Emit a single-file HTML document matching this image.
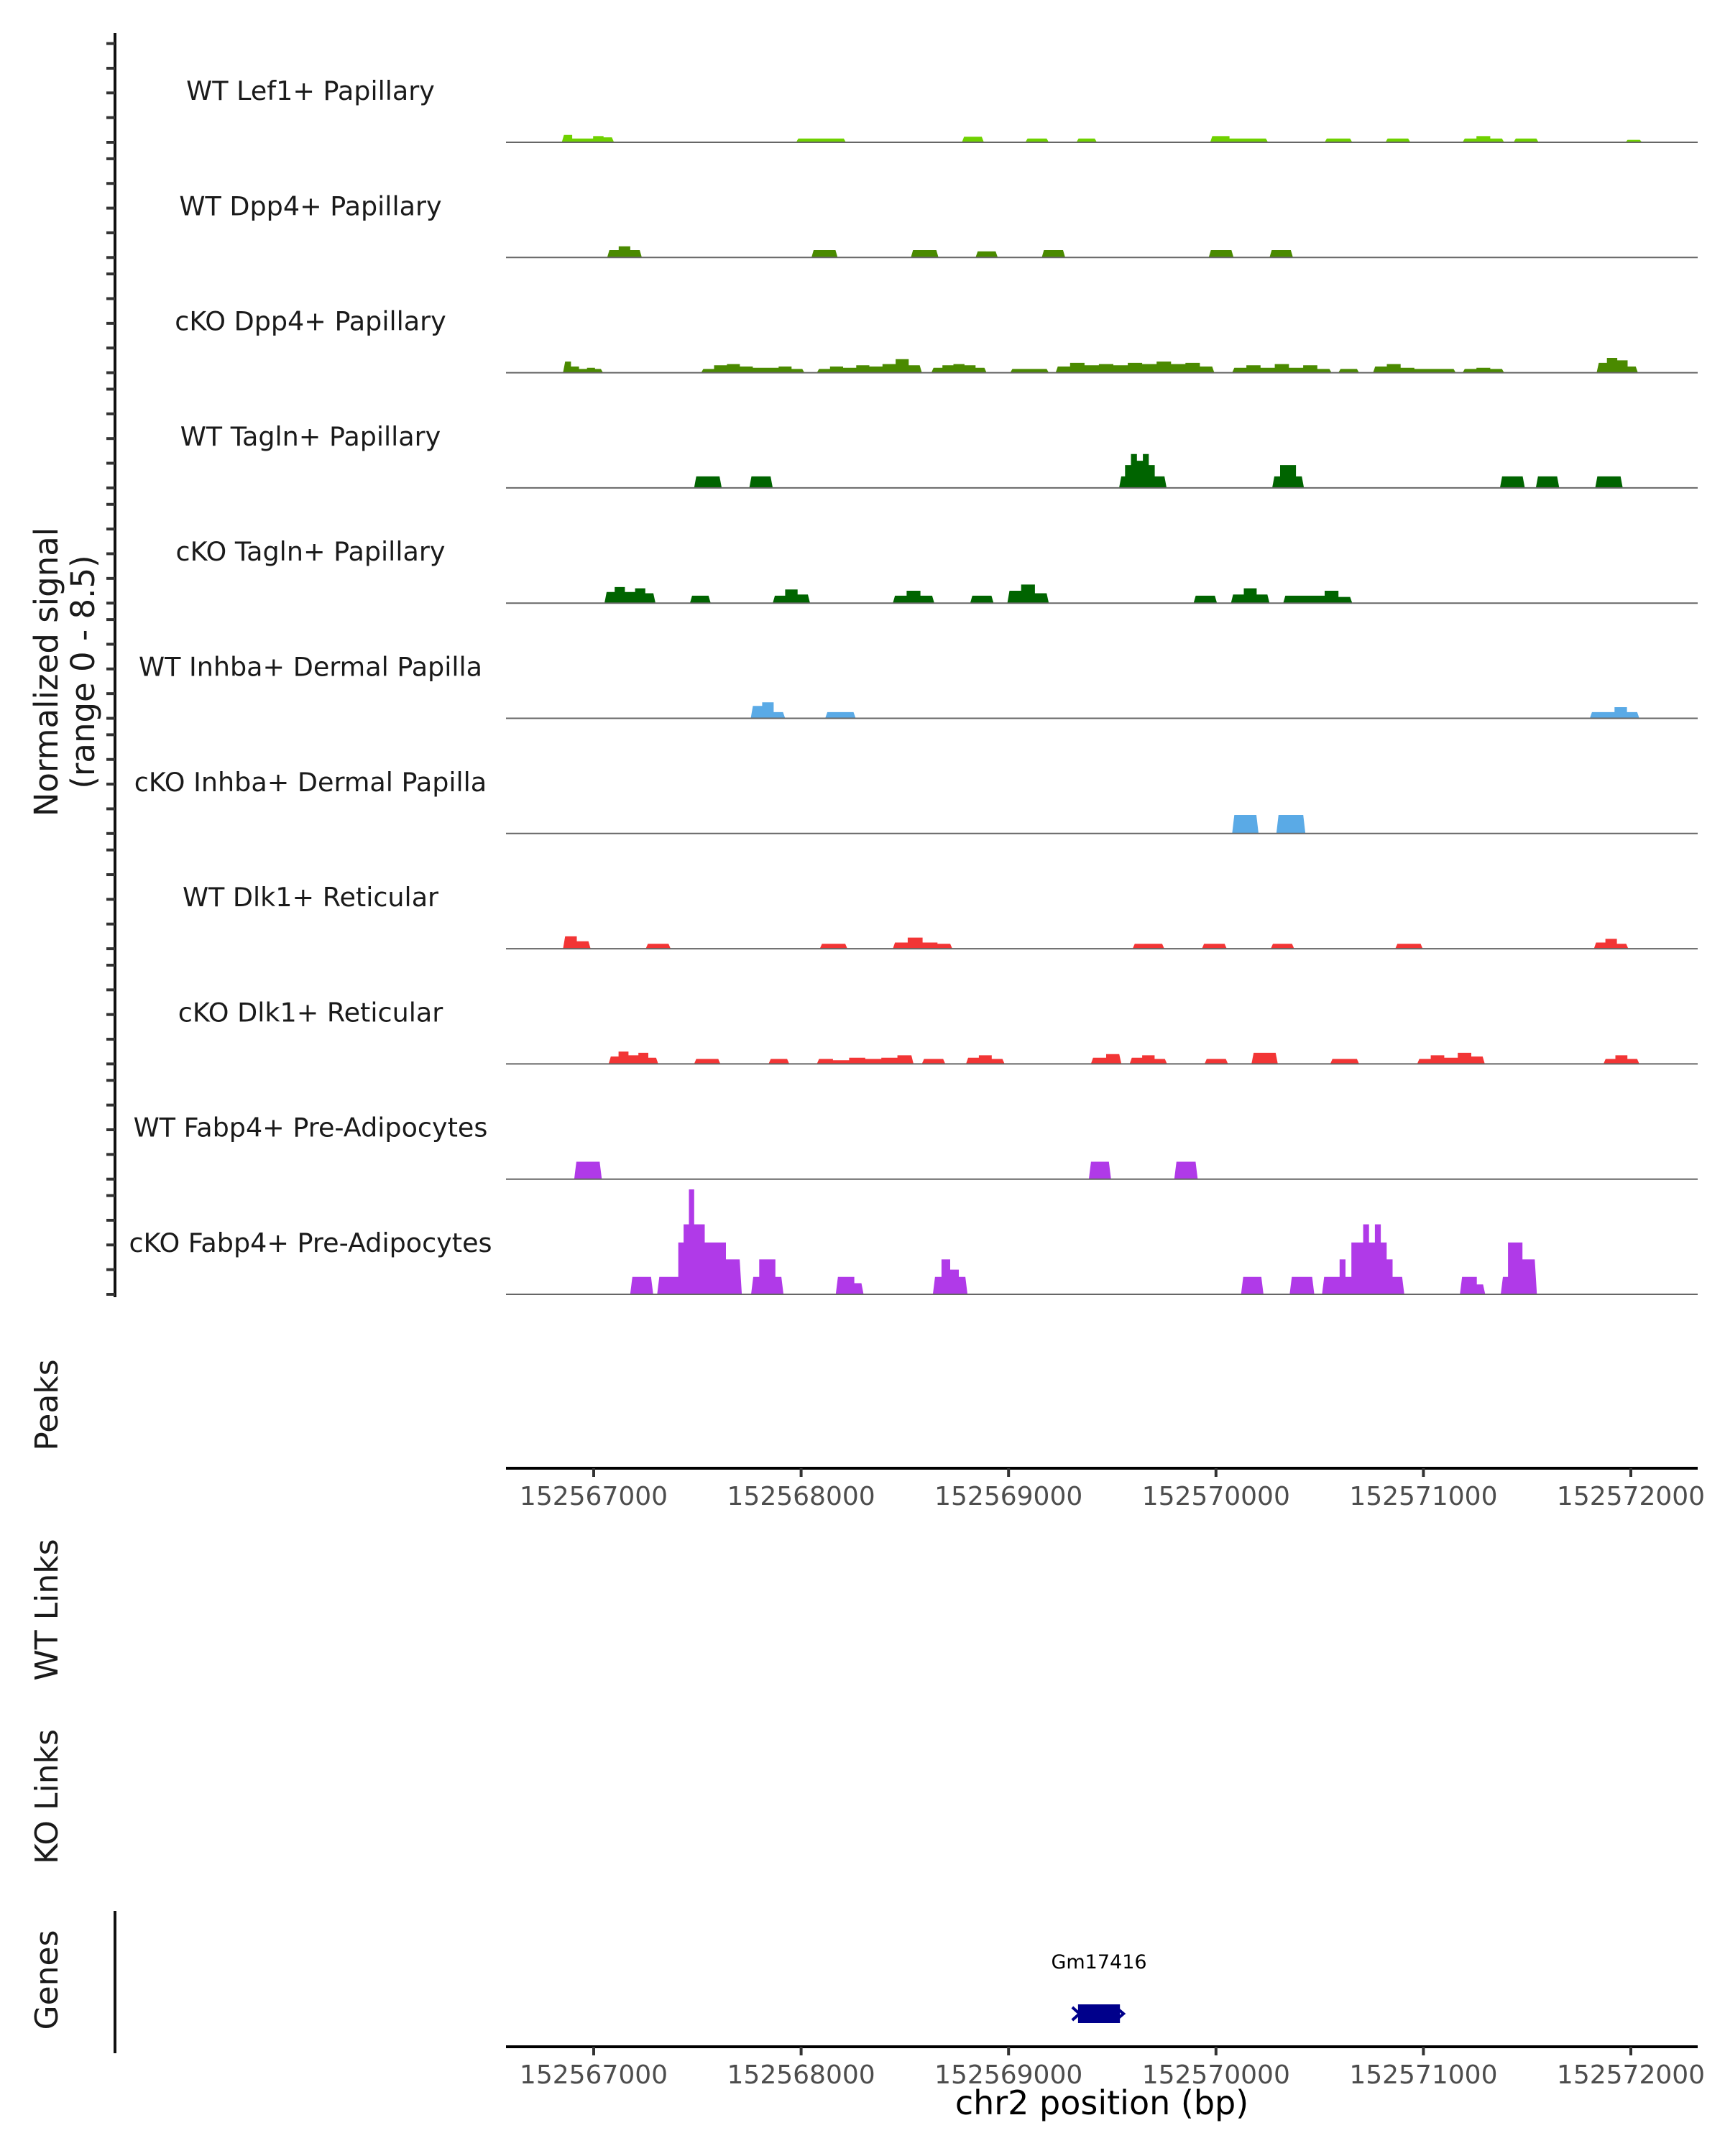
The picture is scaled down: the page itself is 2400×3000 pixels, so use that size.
<!DOCTYPE html>
<html><head><meta charset="utf-8">
<style>
html,body{margin:0;padding:0;background:#fff;}
svg{display:block;font-family:"DejaVu Sans","Liberation Sans",sans-serif;}
</style></head>
<body>
<svg id="chart" width="2400" height="3000" viewBox="0 0 2400 3000" xmlns="http://www.w3.org/2000/svg">
<g id="static">
  <text transform="translate(80,935) rotate(-90)" text-anchor="middle" font-size="45" fill="#1a1a1a">Normalized signal</text>
  <text transform="translate(131,935) rotate(-90)" text-anchor="middle" font-size="45" fill="#1a1a1a">(range 0 - 8.5)</text>
  <text transform="translate(80,1955) rotate(-90)" text-anchor="middle" font-size="44" fill="#1a1a1a">Peaks</text>
  <text transform="translate(80,2240) rotate(-90)" text-anchor="middle" font-size="44" fill="#1a1a1a">WT Links</text>
  <text transform="translate(80,2500) rotate(-90)" text-anchor="middle" font-size="44" fill="#1a1a1a">KO Links</text>
  <text transform="translate(80,2755) rotate(-90)" text-anchor="middle" font-size="44" fill="#1a1a1a">Genes</text>
  <line x1="160" y1="46" x2="160" y2="1805" stroke="#111" stroke-width="4"/>
  <line x1="160" y1="2659" x2="160" y2="2857" stroke="#111" stroke-width="4"/>
  <text x="1533" y="2942" text-anchor="middle" font-size="46" fill="#000">chr2 position (bp)</text>
</g>
<g id="tracks"></g>
<g id="axes"></g>
<g id="genes"></g>
</svg>
<script>
// ---- data ----
const trackNames = ["WT Lef1+ Papillary","WT Dpp4+ Papillary","cKO Dpp4+ Papillary","WT Tagln+ Papillary","cKO Tagln+ Papillary","WT Inhba+ Dermal Papilla","cKO Inhba+ Dermal Papilla","WT Dlk1+ Reticular","cKO Dlk1+ Reticular","WT Fabp4+ Pre-Adipocytes","cKO Fabp4+ Pre-Adipocytes"];
const trackColors = ["#6fd100","#4a8a00","#4a8a00","#006400","#006400","#5aaae6","#5aaae6","#f23535","#f23535","#b03ae8","#b03ae8"];
// peaks per track: [start bp offset from 152567000, end, step heights...]
const lef1WT = [[-154,98,0.6,0.3,0.3,0.5,0.4],[976,1216,0.3,0.3],[1775,1881,0.45],[2081,2194,0.3],[2327,2426,0.3],[2972,3251,0.5,0.3,0.3],[3524,3657,0.3],[3817,3937,0.3],[4189,4389,0.3,0.5,0.3],[4435,4555,0.3],[4974,5054,0.2]];
const dpp4WT = [[65,232,0.6,0.9,0.6],[1050,1176,0.6],[1529,1662,0.6],[1841,1948,0.5],[2160,2273,0.6],[2965,3085,0.6],[3258,3371,0.6]];
const dpp4KO = [[-148,45,0.9,0.5,0.3,0.4,0.3],[518,1016,0.3,0.6,0.7,0.5,0.4,0.4,0.5,0.3],[1076,1582,0.3,0.5,0.4,0.6,0.5,0.7,1.1,0.6],[1628,1894,0.4,0.6,0.7,0.6,0.4],[2008,2194,0.3,0.3,0.3],[2227,2992,0.5,0.8,0.6,0.7,0.6,0.8,0.7,0.9,0.7,0.8,0.5],[3078,3557,0.4,0.6,0.4,0.7,0.4,0.6,0.3],[3590,3690,0.3],[3757,4156,0.5,0.7,0.4,0.3,0.3,0.3],[4189,4389,0.3,0.4,0.3],[4835,5034,0.8,1.2,1.0,0.5]];
const taglnWT = [[484,617,0.93],[750,863,0.93],[2533,2762,0.93,1.85,2.75,2.2,2.75,1.85,0.93,0.93],[3271,3424,0.93,1.85,1.85,0.93],[4369,4489,0.93],[4542,4655,0.93],[4828,4961,0.93]];
const taglnKO = [[52,298,0.9,1.3,0.9,1.2,0.8],[464,564,0.6],[863,1043,0.6,1.1,0.7],[1442,1642,0.6,1.0,0.6],[1815,1928,0.6],[1994,2194,1.0,1.5,0.8],[2892,3005,0.6],[3072,3258,0.7,1.2,0.7],[3324,3657,0.6,0.6,0.6,1.0,0.5]];
const inhbaWT = [[757,923,1.0,1.3,0.5],[1116,1263,0.5],[4802,5041,0.5,0.5,0.9,0.5]];
const inhbaKO = [[3078,3205,1.5],[3291,3431,1.5]];
const dlk1WT = [[-148,-15,1.0,0.6],[251,371,0.4],[1090,1223,0.4],[1442,1729,0.5,0.9,0.5,0.4],[2598,2751,0.4],[2932,3052,0.4],[3264,3377,0.4],[3864,3997,0.4],[4822,4988,0.5,0.8,0.4]];
const dlk1KO = [[72,311,0.6,1.0,0.7,0.9,0.5],[484,611,0.4],[843,943,0.4],[1076,1542,0.4,0.3,0.5,0.4,0.5,0.7],[1582,1695,0.4],[1795,1981,0.5,0.7,0.4],[2397,2544,0.5,0.8],[2584,2764,0.5,0.7,0.4],[2945,3058,0.4],[3171,3298,0.9],[3551,3690,0.4],[3970,4296,0.4,0.7,0.5,0.9,0.6],[4868,5041,0.4,0.7,0.4]];
const fabp4WT = [[-94,39,1.41],[2387,2494,1.41],[2799,2912,1.41]];
const fabp4KO = [[176,287,1.41],[306,714,1.41,1.41,1.41,1.41,4.2,5.67,8.5,5.67,5.67,4.2,4.2,4.2,4.2,2.83,2.83,2.83],[759,915,1.41,2.83,2.83,1.41],[1167,1301,1.41,1.41,0.9],[1635,1802,1.41,2.83,2.0,1.41],[3121,3229,1.41],[3355,3474,1.41],[3511,3908,1.41,1.41,1.41,2.83,1.41,4.2,4.2,5.67,4.2,5.67,4.2,2.83,1.41,1.41],[4176,4298,1.41,1.41,0.8],[4373,4547,1.41,4.2,4.2,2.83,2.83]];
const trackPeaks = [lef1WT,dpp4WT,dpp4KO,taglnWT,taglnKO,inhbaWT,inhbaKO,dlk1WT,dlk1KO,fabp4WT,fabp4KO];
const yTicks = [0,2,4,6,8];
const xTickValues = [152567000,152568000,152569000,152570000,152571000,152572000];
const geneName = "Gm17416";
const geneStart = 152569335, geneEnd = 152569537;

// ---- scales ----
const NS="http://www.w3.org/2000/svg";
const X0=826, PXPERBP=0.2886, ORIGIN=152567000;
const xOff = bp => X0 + bp*PXPERBP;
const xAbs = bp => X0 + (bp-ORIGIN)*PXPERBP;
const TRACK_L=704, TRACK_R=2362;
const base = k => 198 + k*160.3;
const UNIT = 146/8.5;
const yVal = (k,v) => base(k) - v*UNIT;
function mk(tag, attrs, parent){const e=document.createElementNS(NS,tag);for(const a in attrs)e.setAttribute(a,attrs[a]);parent.appendChild(e);return e;}

const tracks=document.getElementById('tracks');
trackNames.forEach((name,k)=>{
  const g=mk('g',{},tracks);
  
  
  const t=mk('text',{x:432,y:base(k)-59,'text-anchor':'middle','font-size':36.5,fill:'#1a1a1a'},g);
  
  
  t.textContent=name;
  yTicks.forEach(v=>{
    const tk=mk('line',{x1:148,x2:160,y1:yVal(k,v),y2:yVal(k,v),stroke:'#333','stroke-width':4},g);
    
    
  });
  trackPeaks[k].forEach(p=>{
    const s=p[0], e=p[1], hs=p.slice(2), n=hs.length, w=(e-s)/n;
    const b=base(k);
    let pts=[[xOff(s),b]];
    hs.forEach((h,i)=>{
      let xa=xOff(s+i*w), xb=xOff(s+(i+1)*w);
      if(i===0) xa+=3;
      if(i===n-1) xb-=3;
      pts.push([xa,yVal(k,h)],[xb,yVal(k,h)]);
    });
    pts.push([xOff(e),b]);
    const poly=mk('polygon',{points:pts.map(q=>q[0].toFixed(1)+','+q[1].toFixed(1)).join(' '),fill:trackColors[k]},g);
    
    
  });
  const bl=mk('line',{x1:TRACK_L,x2:TRACK_R,y1:base(k),y2:base(k),stroke:'#666','stroke-width':2},g);
  
  
});

const axes=document.getElementById('axes');
[[2043,'peaks-x-axis'],[2848,'genes-x-axis']].forEach(([y,nm])=>{
  const g=mk('g',{},axes);
  
  
  const l=mk('line',{x1:TRACK_L,x2:TRACK_R,y1:y,y2:y,stroke:'#000','stroke-width':4},g);
  
  
  xTickValues.forEach(v=>{
    const tk=mk('line',{x1:xAbs(v),x2:xAbs(v),y1:y,y2:y+12,stroke:'#333','stroke-width':4},g);
    
    
    const tl=mk('text',{x:xAbs(v),y:y+51,'text-anchor':'middle','font-size':36,fill:'#4d4d4d'},g);
    
    
    tl.textContent=v;
  });
});

const genes=document.getElementById('genes');
const gx1=xAbs(geneStart), gx2=xAbs(geneEnd);
const gl=mk('text',{x:(gx1+gx2)/2,y:2739,'text-anchor':'middle','font-size':27,fill:'#000'},genes);


gl.textContent=geneName;
const gb=mk('rect',{x:gx1,y:2789,width:gx2-gx1,height:26,fill:'#00008b'},genes);


const ga=mk('polyline',{points:`${gx1-8},2793 ${gx1+2},2802 ${gx1-8},2811`,fill:'none',stroke:'#00008b','stroke-width':4},genes);


const ga2=mk('polyline',{points:`${gx2-2},2796 ${gx2+5},2802 ${gx2-2},2808`,fill:'none',stroke:'#00008b','stroke-width':4},genes);


</script>
</body></html>
